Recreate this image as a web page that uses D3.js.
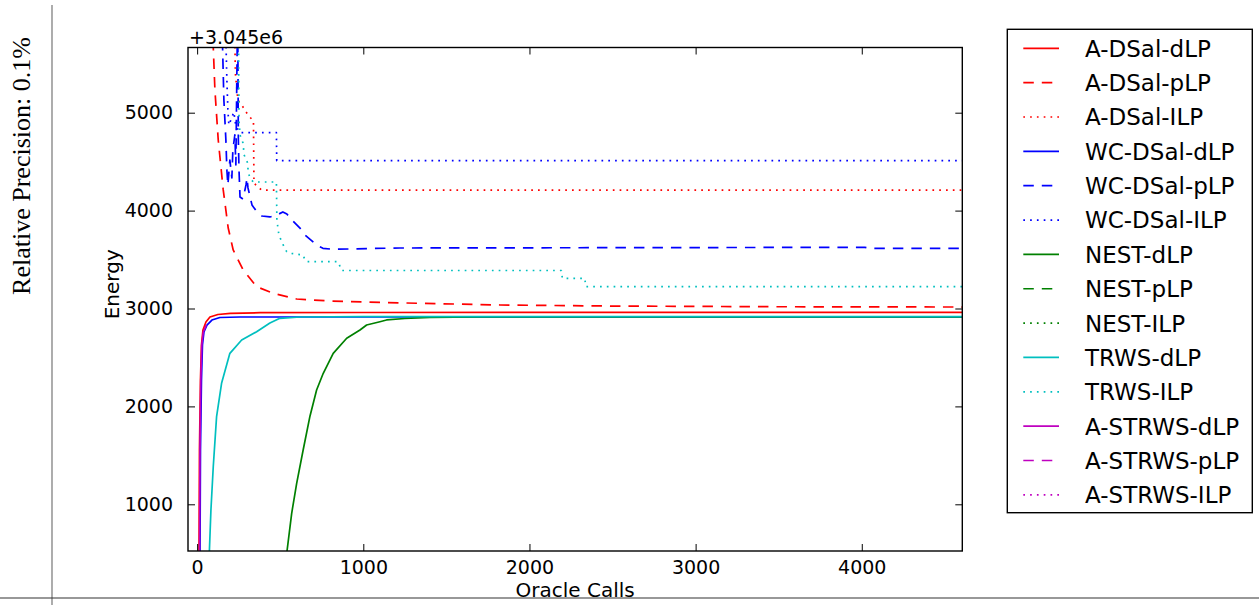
<!DOCTYPE html>
<html>
<head>
<meta charset="utf-8">
<script src="https://cdn.jsdelivr.net/npm/d3@7"></script>
<style>
  html, body { margin: 0; padding: 0; background: #fff; }
  svg { display: block; }
  text { font-family: "DejaVu Sans", sans-serif; fill: #000; }
</style>
</head>
<body>
<svg id="chart" width="1259" height="605"></svg>
<script>
// ---------------- DATA (energy values relative to offset +3.045e6) ----------------
const seriesNames = ["A-DSal-dLP", "A-DSal-pLP", "A-DSal-ILP",
  "WC-DSal-dLP", "WC-DSal-pLP", "WC-DSal-ILP",
  "NEST-dLP", "NEST-pLP", "NEST-ILP",
  "TRWS-dLP", "TRWS-ILP",
  "A-STRWS-dLP", "A-STRWS-pLP", "A-STRWS-ILP"];

const xTicks = [0, 1000, 2000, 3000, 4000];
const yTicks = [1000, 2000, 3000, 4000, 5000];
const offsetLabel = "+3.045e6";

const aDsalDlpX = [11, 14, 20, 26, 35, 53, 77, 125, 200, 380, 1000, 2000, 3000, 4000, 4605];
const aDsalDlpY = [400, 1555, 2270, 2627, 2780, 2862, 2913, 2939, 2951, 2957, 2959, 2960, 2960, 2960, 2960];

const aDsalPlpX = [94, 97, 107, 127, 157, 187, 217, 277, 358, 458, 599, 799, 1100, 1341, 1822, 2500, 3500, 4605];
const aDsalPlpY = [5743, 5671, 5232, 4721, 4211, 3822, 3598, 3393, 3223, 3155, 3097, 3077, 3063, 3053, 3036, 3025, 3018, 3015];

const aDsalIlpX = [227, 230, 245, 276, 306, 339, 342, 360, 388, 4605];
const aDsalIlpY = [5743, 5406, 5130, 5058, 4977, 4915, 4282, 4251, 4210, 4210];

const wcDsalDlpX = [17, 20, 26, 32, 41, 59, 89, 137, 258, 1000, 4605];
const wcDsalDlpY = [400, 1555, 2270, 2627, 2760, 2831, 2882, 2908, 2913, 2913, 2913];

const wcDsalPlpX = [152, 161, 173, 179, 185, 197, 209, 215, 227, 233, 241, 245, 248, 252, 258, 276, 294, 300, 306, 330, 360, 390, 438, 480, 516, 540, 570, 619, 649, 719, 757, 817, 1220, 4018, 4048, 4605];
const wcDsalPlpY = [5743, 5130, 4721, 4415, 4262, 4517, 4334, 4619, 4773, 4466, 5671, 5743, 4721, 4415, 4139, 4118, 4262, 4334, 4232, 4058, 3986, 3945, 3935, 3955, 3986, 3965, 3904, 3822, 3751, 3649, 3615, 3605, 3618, 3625, 3615, 3615];

const wcDsalIlpX = [173, 179, 185, 191, 203, 221, 233, 258, 477, 479, 4605];
const wcDsalIlpY = [5743, 5334, 5028, 4875, 4926, 5007, 4865, 4796, 4796, 4510, 4510];

const nestDlpX = [532, 569, 599, 638, 679, 719, 759, 819, 900, 980, 1020, 1100, 1140, 1250, 1401, 1702, 4605];
const nestDlpY = [400, 908, 1214, 1555, 1900, 2167, 2338, 2542, 2696, 2780, 2831, 2865, 2883, 2898, 2910, 2915, 2915];

const nestPlpX = [];
const nestPlpY = [];
const nestIlpX = [];
const nestIlpY = [];

const trwsDlpX = [71, 83, 97, 117, 147, 197, 268, 358, 438, 498, 619, 1000, 4605];
const trwsDlpY = [400, 942, 1384, 1895, 2236, 2542, 2678, 2763, 2852, 2900, 2913, 2917, 2917];

const trwsIlpX = [249, 252, 258, 276, 283, 304, 307, 318, 338, 477, 480, 492, 518, 539, 558, 638, 649, 659, 849, 869, 2192, 2198, 2333, 2339, 4605];
const trwsIlpY = [5743, 4926, 4773, 4691, 4568, 4486, 4394, 4333, 4292, 4292, 3904, 3751, 3649, 3580, 3564, 3547, 3495, 3478, 3478, 3388, 3388, 3308, 3308, 3223, 3223];

const aStrwsDlpX = [14, 17, 22, 28, 37, 55];
const aStrwsDlpY = [400, 1555, 2270, 2627, 2760, 2831];
const aStrwsPlpX = [];
const aStrwsPlpY = [];
const aStrwsIlpX = [];
const aStrwsIlpY = [];

// ---------------- STYLES ----------------
const seriesColors = ["#ff0000", "#ff0000", "#ff0000", "#0000ff", "#0000ff", "#0000ff",
  "#008000", "#008000", "#008000", "#00bfbf", "#00bfbf", "#bf00bf", "#bf00bf", "#bf00bf"];
const seriesDash = ["solid", "dashed", "dotted", "solid", "dashed", "dotted",
  "solid", "dashed", "dotted", "solid", "dotted", "solid", "dashed", "dotted"];
const dashArray = { solid: null, dashed: "10.5,8", dotted: "1.7,5.1" };

const seriesX = [aDsalDlpX, aDsalPlpX, aDsalIlpX, wcDsalDlpX, wcDsalPlpX, wcDsalIlpX,
  nestDlpX, nestPlpX, nestIlpX, trwsDlpX, trwsIlpX, aStrwsDlpX, aStrwsPlpX, aStrwsIlpX];
const seriesY = [aDsalDlpY, aDsalPlpY, aDsalIlpY, wcDsalDlpY, wcDsalPlpY, wcDsalIlpY,
  nestDlpY, nestPlpY, nestIlpY, trwsDlpY, trwsIlpY, aStrwsDlpY, aStrwsPlpY, aStrwsIlpY];

const series = seriesNames.map((name, i) => ({
  name, color: seriesColors[i], dash: dashArray[seriesDash[i]],
  points: seriesX[i].map((x, j) => [x, seriesY[i][j]])
}));

// ---------------- LAYOUT ----------------
const svg = d3.select("#chart");
const plot = { left: 188, right: 962.3, top: 47.5, bottom: 551 };

const x = d3.scaleLinear().domain([-55, 4605]).range([plot.left, plot.right]);
const y = d3.scaleLinear().domain([523, 5666]).range([plot.bottom, plot.top]);

// Figure decorations (page frame lines, side caption)
svg.append("line").attr("x1", 52).attr("x2", 52).attr("y1", 5).attr("y2", 605)
  .attr("stroke", "#808080").attr("stroke-width", 1.3);
svg.append("line").attr("x1", 0).attr("x2", 1259).attr("y1", 598).attr("y2", 598)
  .attr("stroke", "#333").attr("stroke-width", 1.2);
svg.append("text")
  .attr("transform", "translate(30,166) rotate(-90)")
  .attr("text-anchor", "middle")
  .style("font-family", "'Liberation Serif', serif")
  .style("font-size", "26px")
  .text("Relative Precision: 0.1%");

// Clip
svg.append("defs").append("clipPath").attr("id", "plotclip")
  .append("rect").attr("x", plot.left).attr("y", plot.top)
  .attr("width", plot.right - plot.left).attr("height", plot.bottom - plot.top);

// Lines
const line = d3.line().x(d => x(d[0])).y(d => y(d[1]));
const gLines = svg.append("g").attr("clip-path", "url(#plotclip)");
series.forEach(s => {
  if (!s.points.length) return;
  gLines.append("path").datum(s.points)
    .attr("d", line)
    .attr("fill", "none")
    .attr("stroke", s.color)
    .attr("stroke-width", 1.7)
    .attr("stroke-dasharray", s.dash)
    .attr("stroke-linejoin", "round");
});

// Axes (ticks inward on all sides)
const tickLen = 7;
const fontTick = "19px";
const xAxisB = d3.axisBottom(x).tickValues(xTicks).tickSizeInner(-tickLen).tickSizeOuter(0).tickPadding(tickLen + 3).tickFormat(d3.format("d"));
const xAxisT = d3.axisTop(x).tickValues(xTicks).tickSizeInner(-tickLen).tickSizeOuter(0).tickFormat("");
const yAxisL = d3.axisLeft(y).tickValues(yTicks).tickSizeInner(-tickLen).tickSizeOuter(0).tickPadding(tickLen + 8).tickFormat(d3.format("d"));
const yAxisR = d3.axisRight(y).tickValues(yTicks).tickSizeInner(-tickLen).tickSizeOuter(0).tickFormat("");

function styleAxis(g) {
  g.select(".domain").remove();
  g.selectAll(".tick line").attr("stroke", "#000").attr("stroke-width", 1);
  g.selectAll(".tick text").style("font-family", "'DejaVu Sans', sans-serif").style("font-size", fontTick);
}
svg.append("g").attr("transform", `translate(0,${plot.bottom})`).call(xAxisB).call(styleAxis);
svg.append("g").attr("transform", `translate(0,${plot.top})`).call(xAxisT).call(styleAxis);
svg.append("g").attr("transform", `translate(${plot.left},0)`).call(yAxisL).call(styleAxis);
svg.append("g").attr("transform", `translate(${plot.right},0)`).call(yAxisR).call(styleAxis);

// Frame
svg.append("rect").attr("x", plot.left).attr("y", plot.top)
  .attr("width", plot.right - plot.left).attr("height", plot.bottom - plot.top)
  .attr("fill", "none").attr("stroke", "#000").attr("stroke-width", 1.4);

// Offset text
svg.append("text").attr("x", 189).attr("y", 43.5)
  .style("font-size", "19px").text(offsetLabel);

// Axis labels
svg.append("text").attr("x", (plot.left + plot.right) / 2).attr("y", 597)
  .attr("text-anchor", "middle").style("font-size", "20px").text("Oracle Calls");
svg.append("text").attr("transform", `translate(119,${(plot.top + plot.bottom) / 2 - 15}) rotate(-90)`)
  .attr("text-anchor", "middle").style("font-size", "20px").text("Energy");

// Legend
const leg = { x: 1007.3, y: 29.3, w: 245, h: 483.4, row0: 48.3, step: 34.35 };
svg.append("rect").attr("x", leg.x).attr("y", leg.y).attr("width", leg.w).attr("height", leg.h)
  .attr("fill", "#fff").attr("stroke", "#000").attr("stroke-width", 1.4);
const legRows = svg.append("g").selectAll("g").data(series).join("g")
  .attr("transform", (d, i) => `translate(0,${leg.row0 + i * leg.step})`);
legRows.append("line").attr("x1", 1023.3).attr("x2", 1059).attr("y1", 0).attr("y2", 0)
  .attr("stroke", d => d.color).attr("stroke-width", 1.7)
  .attr("stroke-dasharray", d => d.dash);
legRows.append("text").attr("x", 1085).attr("y", 8.4)
  .style("font-size", "23px").text(d => d.name);
</script>
</body>
</html>
